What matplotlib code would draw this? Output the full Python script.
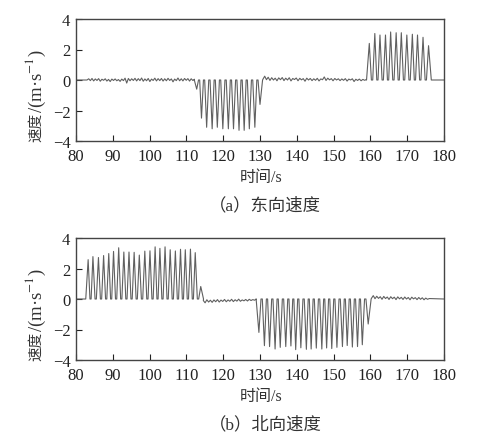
import matplotlib
matplotlib.use("Agg")
import matplotlib.pyplot as plt
import numpy as np

plt.rcParams['font.family'] = ['Liberation Serif', 'Noto Sans CJK SC', 'DejaVu Sans']
plt.rcParams['mathtext.fontset'] = 'stix'
plt.rcParams['axes.unicode_minus'] = True

# ---- east velocity (a) ----
east_noise1 = [0.00, 0.08, -0.04, 0.10, -0.06, 0.07, -0.03, 0.09, -0.08, 0.05,
               -0.02, 0.08, -0.07, 0.04, -0.10, 0.06, -0.03, 0.07, -0.05, 0.03,
               -0.09, 0.06, -0.04, 0.12, -0.20, 0.10, -0.05, 0.08, -0.03, 0.11,
               -0.06, 0.09, -0.04, 0.13, -0.08, 0.07, -0.05, 0.10, -0.10, 0.06,
               -0.03, 0.12, -0.06, 0.09, -0.04, 0.10, -0.07, 0.08, -0.05, 0.11,
               -0.03, 0.07, -0.12, 0.06, -0.04, 0.13, -0.05, 0.08, -0.06, 0.10,
               -0.02, 0.09, -0.07, 0.08, -0.03, 0.05]
east_noise1_span = (83.0, 112.2)
east_neg_t = [112.8, 114.1, 115.5, 117.0, 118.4, 119.9, 121.4, 122.8, 124.3,
              125.7, 127.1, 128.6, 130.0]
east_neg_v = [-0.6, -2.5, -3.1, -3.2, -3.1, -3.2, -3.2, -3.2, -3.3, -3.3,
              -3.2, -3.1, -1.6]
east_noise2 = [0.05, 0.25, 0.02, 0.18, -0.03, 0.15, 0.00, 0.12, -0.05, 0.14,
               0.02, 0.16, -0.04, 0.12, 0.00, 0.15, -0.06, 0.10, 0.03, 0.13,
               -0.05, 0.11, 0.01, 0.09, -0.08, 0.12, 0.00, 0.10, -0.04, 0.08,
               -0.02, 0.11, -0.06, 0.07, 0.02, 0.20, -0.03, 0.12, 0.01, 0.09,
               -0.05, 0.10, 0.00, 0.08, -0.04, 0.07, -0.02, 0.09, -0.07, 0.06,
               0.00, 0.08, -0.10, 0.05, -0.03, 0.06, -0.05, 0.04, -0.02, 0.03]
east_noise2_span = (130.8, 158.9)
east_pos_t = [159.7, 161.2, 162.6, 164.1, 165.5, 167.0, 168.4, 169.9, 171.4,
              172.8, 174.3, 175.8]
east_pos_v = [2.4, 3.05, 2.95, 2.95, 3.15, 3.1, 3.1, 2.95, 3.0, 2.95, 2.8, 2.25]

# ---- north velocity (b) ----
north_pos_t = [83.3, 84.6, 86.1, 87.5, 88.9, 90.2, 91.6, 93.0, 94.4, 95.8,
               97.2, 98.7, 100.1, 101.5, 102.8, 104.2, 105.6, 107.0, 108.4,
               109.7, 111.1, 112.4, 113.9]
north_pos_v = [2.58, 2.78, 2.72, 2.85, 2.98, 3.12, 3.36, 3.08, 3.08, 3.06,
               2.88, 3.14, 3.16, 3.42, 3.32, 3.42, 3.23, 3.15, 3.26, 3.23,
               3.27, 3.04, 0.82]
north_noise1 = [-0.10, -0.25, -0.05, -0.20, -0.08, -0.22, -0.06, -0.18, -0.04,
                -0.20, -0.07, -0.16, -0.03, -0.18, -0.06, -0.15, -0.02, -0.17,
                -0.05, -0.14, -0.01, -0.15, -0.06, -0.12, -0.03, -0.13, -0.02,
                -0.10, -0.04, -0.08, 0.00]
north_noise1_span = (114.6, 129.0)
north_neg_t = [129.7, 131.2, 132.6, 134.1, 135.5, 137.0, 138.4, 139.7, 141.1,
               142.6, 143.9, 145.3, 146.8, 148.1, 149.5, 150.9, 152.4, 153.7,
               155.1, 156.5, 157.8, 159.4]
north_neg_v = [-2.19, -3.06, -3.12, -3.28, -3.17, -3.12, -3.08, -3.32, -3.20,
               -3.30, -3.28, -3.22, -3.28, -3.21, -3.25, -3.17, -3.12, -3.05,
               -3.15, -3.12, -3.00, -1.64]
north_noise2 = [0.05, 0.22, 0.02, 0.18, 0.04, 0.15, -0.02, 0.17, 0.03, 0.13,
                -0.03, 0.15, 0.02, 0.12, -0.04, 0.14, 0.01, 0.11, -0.03, 0.13,
                0.00, 0.10, -0.05, 0.12, 0.01, 0.09, -0.04, 0.10, -0.02, 0.08,
                -0.05, 0.06, -0.02, 0.03]
north_noise2_span = (160.3, 176.0)

x_ticks = [80, 90, 100, 110, 120, 130, 140, 150, 160, 170, 180]
y_ticks = [-4, -2, 0, 2, 4]


def noise(vals, span):
    return np.linspace(span[0], span[1], len(vals)), np.array(vals)


def pulses(times, vals, flat=0.12):
    """ peaks joined by short flat troughs at zero halfway between them """
    t = np.asarray(times)
    gaps = np.diff(t)
    g0, g1 = gaps[0], gaps[-1]
    tt = [t[0] - g0 / 2]
    vv = [0.0]
    for i in range(len(t)):
        tt.append(t[i])
        vv.append(vals[i])
        if i < len(gaps):
            m = t[i] + gaps[i] / 2
            tt += [m - flat * gaps[i], m + flat * gaps[i]]
            vv += [0.0, 0.0]
    tt.append(t[-1] + g1 / 2)
    vv.append(0.0)
    return np.array(tt), np.array(vv)


def join(*parts):
    ts = np.concatenate([p[0] for p in parts])
    vs = np.concatenate([p[1] for p in parts])
    return ts, vs


east = join((np.array([80.0]), np.array([0.0])),
            noise(east_noise1, east_noise1_span),
            pulses(east_neg_t, east_neg_v),
            noise(east_noise2, east_noise2_span),
            pulses(east_pos_t, east_pos_v),
            (np.array([180.0]), np.array([0.0])))

north = join((np.array([80.0]), np.array([0.0])),
             pulses(north_pos_t, north_pos_v),
             noise(north_noise1, north_noise1_span),
             pulses(north_neg_t, north_neg_v),
             noise(north_noise2, north_noise2_span),
             (np.array([180.0]), np.array([0.0])))

W, H = 483, 435
fig = plt.figure(figsize=(W / 100, H / 100), dpi=100)
txt = '#333333'

panels = [(east, 20, 142, "（a）东向速度"), (north, 239, 361, "（b）北向速度")]
for (ts, vs), top, bot, caption in panels:
    ax = fig.add_axes([76 / W, 1 - bot / H, 368 / W, (bot - top) / H])
    ax.plot(ts, vs, color='#606060', lw=0.8)
    ax.set_xlim(80, 180)
    ax.set_ylim(-4, 4)
    ax.set_xticks(x_ticks)
    ax.set_yticks(y_ticks)
    ax.tick_params(direction='in', length=4, width=0.8, labelsize=12,
                   colors='#222222')
    ax.tick_params(axis='x', pad=5)
    ax.tick_params(axis='y', pad=4)
    for sp in ax.spines.values():
        sp.set_color('#444444')
        sp.set_linewidth(1.0)

    fig.text(261 / W, 1 - (bot + 36) / H, "时间/s", ha='center', va='center',
             fontsize=11.5, color=txt)
    fig.text(265 / W, 1 - (bot + 64) / H, caption, ha='center', va='center',
             fontsize=12.5, color=txt)

    # y label: Chinese part and unit part side by side
    split = (top + bot) / 2 + 32
    fig.text(36 / W, 1 - split / H, "速度", rotation=90, ha='center',
             va='top', fontsize=10.5, color=txt)
    fig.text(36 / W, 1 - split / H, "/(m·s$^{-1}$)", rotation=90,
             ha='center', va='bottom', fontsize=13.5, color=txt)

fig.savefig("out.png", dpi=100, facecolor='white')
